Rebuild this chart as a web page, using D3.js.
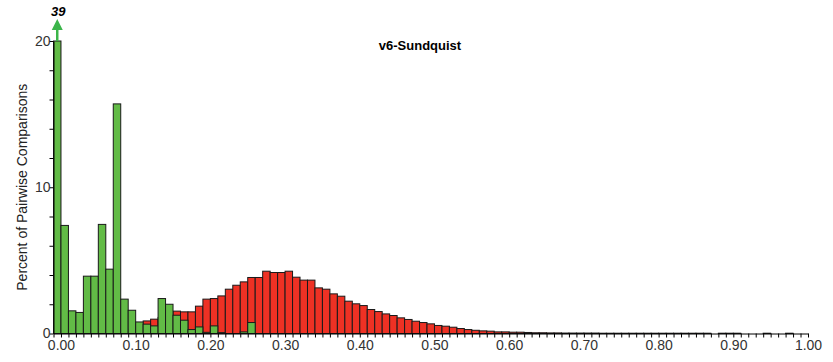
<!DOCTYPE html>
<html>
<head>
<meta charset="utf-8">
<script src="https://cdn.jsdelivr.net/npm/d3@7"></script>
<style>
  body { margin: 0; background: #fff; }
  text { font-family: "Liberation Sans", Arial, sans-serif; }
</style>
</head>
<body>
<div id="chart"></div>
<script>
// bins are labelled by their upper edge: bin k covers ((k-1)/100, k/100]
const binUpper = d3.range(0, 101).map(k => +(k / 100).toFixed(2));

// green series (first 27 bins, rest are 0)
const greenPct = [39, 7.39, 1.55, 1.44, 3.92, 3.92, 7.46, 4.40, 15.70, 2.35, 1.59,
  0.79, 0.64, 0.52, 2.39, 2.0, 1.25, 0.91, 0.27, 0.45, 0.08, 0.52, 0.06, 0, 0, 0.11, 0.75];

// red series, all 101 bins
const redPct = [0, 0, 0, 0, 0, 0, 0, 0, 0, 0.1, 0.3,
  0.6, 0.86, 0.98, 1.1, 1.3, 1.53, 1.48, 1.48, 1.87, 2.35,
  2.39, 2.57, 3.03, 3.30, 3.53, 3.83, 3.83, 4.26, 4.17, 4.17,
  4.26, 3.85, 3.65, 3.65, 3.12, 3.03, 2.71, 2.55, 2.21, 2.03,
  1.91, 1.64, 1.50, 1.34, 1.23, 1.07, 0.96, 0.84, 0.75, 0.66,
  0.55, 0.50, 0.43, 0.34, 0.27, 0.22, 0.18, 0.16, 0.11, 0.11,
  0.09, 0.09, 0.07, 0.05, 0.05, 0.04, 0.04, 0.03, 0.03, 0.03,
  0.03, 0.03, 0.02, 0.02, 0.02, 0.02, 0.02, 0.02, 0.02, 0.02,
  0.02, 0.02, 0.02, 0.02, 0.02, 0.02, 0.02, 0, 0.02, 0.02,
  0.02, 0, 0, 0, 0.02, 0, 0, 0.02, 0, 0];

const xLabels = ["0.00", "0.10", "0.20", "0.30", "0.40", "0.50", "0.60", "0.70", "0.80", "0.90", "1.00"];
const yLabels = [0, 10, 20];
const title = "v6-Sundquist";
const yTitle = "Percent of Pairwise Comparisons";
const yMax = 20;

const width = 833, height = 362;
const greenColor = "#62bb46", redColor = "#ee3124", arrowColor = "#3bb54a";

const svg = d3.select("#chart").append("svg")
  .attr("width", width)
  .attr("height", height);

const x = d3.scaleLinear().domain([-0.01, 1.00]).range([53.5, 808]);
const y = d3.scaleLinear().domain([0, yMax]).range([333.5, 41]);

function bars(vals, color) {
  const data = vals.map((v, k) => ({ upper: binUpper[k], value: v })).filter(d => d.value > 0);
  svg.append("g").selectAll("rect")
    .data(data)
    .enter()
    .append("rect")
    .attr("x", d => x(d.upper - 0.01))
    .attr("y", d => y(Math.min(d.value, yMax)))
    .attr("width", d => x(d.upper) - x(d.upper - 0.01))
    .attr("height", d => y(0) - y(Math.min(d.value, yMax)))
    .style("fill", color)
    .style("stroke", "#1a1a1a")
    .style("stroke-width", "1px");
}

bars(redPct, redColor);
bars(greenPct, greenColor);

// x axis: a tick at every bin edge, labels every 0.10
const xTicks = d3.range(-1, 101).map(k => +(k / 100).toFixed(2));
const xAxis = svg.append("g")
  .attr("transform", `translate(0,${y(0)})`)
  .call(d3.axisBottom(x)
    .tickValues(xTicks)
    .tickSize(4)
    .tickSizeOuter(0)
    .tickFormat(d => {
      const s = d3.format(".2f")(d);
      return xLabels.includes(s) ? s : "";
    }));
xAxis.selectAll("text").style("font-size", "14px").style("fill", "#333").attr("dy", "0.75em").attr("y", 6);
xAxis.selectAll("path, line").style("stroke", "#000");

// y axis: minor tick every 2
const yAxis = svg.append("g")
  .attr("transform", `translate(${x(-0.01)},0)`)
  .call(d3.axisLeft(y)
    .tickValues(d3.range(0, yMax + 1, 2))
    .tickSize(4)
    .tickSizeOuter(0)
    .tickFormat(d => yLabels.includes(d) ? d : ""));
yAxis.selectAll("text").style("font-size", "14px").style("fill", "#333").attr("x", -3);
yAxis.selectAll("path, line").style("stroke", "#000");

// overflow arrow for the clipped first bin
const cx = x(-0.005);
svg.append("line")
  .attr("x1", cx).attr("x2", cx)
  .attr("y1", y(yMax)).attr("y2", 28)
  .style("stroke", arrowColor)
  .style("stroke-width", 2.5);
svg.append("path")
  .attr("d", `M${cx - 5.5},30 L${cx + 5.5},30 L${cx},19 Z`)
  .style("fill", arrowColor);
svg.append("text")
  .attr("x", cx + 1)
  .attr("y", 16)
  .attr("text-anchor", "middle")
  .style("font-size", "13px")
  .style("font-weight", "bold")
  .style("font-style", "italic")
  .text(greenPct[0]);

svg.append("text")
  .attr("x", 420)
  .attr("y", 50)
  .attr("text-anchor", "middle")
  .style("font-size", "13px")
  .style("font-weight", "bold")
  .text(title);

svg.append("text")
  .attr("transform", `translate(27,${(y(0) + y(yMax)) / 2}) rotate(-90)`)
  .attr("text-anchor", "middle")
  .style("font-size", "14px")
  .style("fill", "#222")
  .text(yTitle);
</script>
</body>
</html>
